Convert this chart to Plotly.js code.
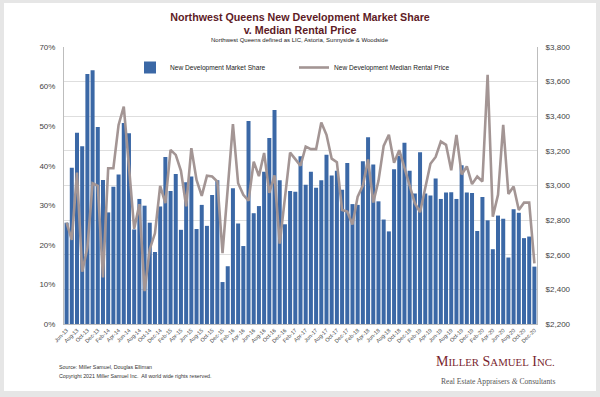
<!DOCTYPE html>
<html><head><meta charset="utf-8">
<script src="https://cdn.plot.ly/plotly-3.0.1.min.js"></script>
<style>html,body{margin:0;padding:0;background:#e6e6e6}#chart{width:600px;height:397px}</style>
</head><body><div id="chart"></div>
<script>
const months = [
 "Jun-13","Jul-13","Aug-13","Sep-13","Oct-13","Nov-13","Dec-13",
 "Jan-14","Feb-14","Mar-14","Apr-14","May-14","Jun-14","Jul-14","Aug-14","Sep-14","Oct-14","Nov-14","Dec-14",
 "Jan-15","Feb-15","Mar-15","Apr-15","May-15","Jun-15","Jul-15","Aug-15","Sep-15","Oct-15","Nov-15","Dec-15",
 "Jan-16","Feb-16","Mar-16","Apr-16","May-16","Jun-16","Jul-16","Aug-16","Sep-16","Oct-16","Nov-16","Dec-16",
 "Jan-17","Feb-17","Mar-17","Apr-17","May-17","Jun-17","Jul-17","Aug-17","Sep-17","Oct-17","Nov-17","Dec-17",
 "Jan-18","Feb-18","Mar-18","Apr-18","May-18","Jun-18","Jul-18","Aug-18","Sep-18","Oct-18","Nov-18","Dec-18",
 "Jan-19","Feb-19","Mar-19","Apr-19","May-19","Jun-19","Jul-19","Aug-19","Sep-19","Oct-19","Nov-19","Dec-19",
 "Jan-20","Feb-20","Mar-20","Apr-20","May-20","Jun-20","Jul-20","Aug-20","Sep-20","Oct-20","Nov-20","Dec-20"
];
const marketShare = [
 25.6,39.5,48.3,44.9,63.2,64.1,49.8,
 36.4,28.2,34.7,37.8,50.8,48.2,23.9,31.6,29.9,25.6,18.2,29.7,
 42.2,33.6,37.9,23.8,35.8,37.3,24.0,30.1,24.8,32.6,36.3,10.6,
 14.6,34.3,25.4,19.7,51.3,28.0,29.8,38.5,47.0,54.1,36.3,25.2,
 33.6,33.4,42.4,35.2,38.5,34.4,36.3,42.8,37.5,38.7,33.9,40.7,
 30.3,30.1,41.1,47.2,40.3,31.0,26.4,23.4,39.1,42.5,45.8,38.7,
 33.0,43.4,33.0,32.5,36.8,31.6,33.2,33.3,31.6,40.1,33.2,33.1,
 23.5,32.1,26.2,18.9,27.4,26.6,16.8,29.0,28.1,21.7,22.1,14.5
];
const medianRent = [
 2786,2686,3075,2502,2640,3013,2998,
 2469,3100,3100,3350,3456,3110,2750,2892,2390,2632,2724,2998,
 2898,3206,3177,3085,2880,3216,3032,2940,3056,3052,3023,2609,
 2994,3354,3013,2946,2912,3138,3054,3188,2957,3058,2664,2930,
 3190,3152,3114,3225,3210,3210,3364,3293,3155,3135,2859,2849,
 2775,2936,2999,3150,2902,3027,3229,3293,3131,3204,3105,2997,
 2898,2846,2985,3126,3165,3254,3235,3088,3292,3064,3110,3008,
 3052,3023,3640,2820,2946,3350,2951,2994,2859,2901,2901,2550
];
const tickLabels = months.filter((m, i) => i % 2 === 0);

const M = {l: 64, r: 63, t: 47, b: 73};
const PW = 600 - M.l - M.r, PH = 397 - M.t - M.b;
const px = x => (x - M.l) / PW;
const py = y => (397 - M.b - y) / PH;
const FONT = "Liberation Sans, Arial, sans-serif";
const SERIF = "Liberation Serif, Times New Roman, serif";

const traces = [
 {type: "bar", name: "New Development Market Share", x: months, y: marketShare,
  marker: {color: "#3b68a6"}, yaxis: "y", hoverinfo: "skip"},
 {type: "scatter", mode: "lines", name: "New Development Median Rental Price", x: months, y: medianRent,
  line: {color: "#a39594", width: 2.6}, yaxis: "y2", hoverinfo: "skip"}
];

const layout = {
 width: 600, height: 397, margin: M,
 paper_bgcolor: "#e6e6e6", plot_bgcolor: "rgba(0,0,0,0)",
 font: {family: FONT, color: "#333"},
 bargap: 0.23, showlegend: true,
 title: {text: "<b>Northwest Queens New Development Market Share<br>v. Median Rental Price</b>",
  font: {family: FONT, size: 10.7, color: "#5e1b26"}, x: 0.5, xanchor: "center", y: 1 - 20.5/397, yanchor: "top", yref: "container"},
 legend: {orientation: "h", x: px(130), xanchor: "left", y: py(67.5), yanchor: "middle",
  font: {family: FONT, size: 6.6, color: "#222"}, bgcolor: "rgba(0,0,0,0)",
  entrywidth: 119, entrywidthmode: "pixels", traceorder: "normal"},
 xaxis: {type: "category", tickvals: tickLabels, ticktext: tickLabels, tickangle: -45,
  tickfont: {family: FONT, size: 5.5, color: "#444"}, showline: true, linecolor: "#bdbdbd", linewidth: 1,
  showgrid: false, ticks: "", fixedrange: true},
 yaxis: {range: [0, 70], dtick: 10, ticksuffix: "%", showgrid: false, zeroline: false,
  showline: true, linecolor: "#bdbdbd", linewidth: 1, ticks: "", ticklabelstandoff: 6,
  tickfont: {family: FONT, size: 8, color: "#444"}},
 yaxis2: {overlaying: "y", side: "right", range: [2200, 3800], dtick: 200, tickformat: "$,.0f",
  showgrid: true, gridcolor: "#d6d6d6", gridwidth: 0.8, zeroline: false,
  showline: true, linecolor: "#bdbdbd", linewidth: 1, ticks: "", ticklabelstandoff: 6,
  tickfont: {family: FONT, size: 8, color: "#444"}},
 shapes: [
  {type: "rect", xref: "paper", yref: "paper", x0: px(4), x1: px(596), y0: py(391), y1: py(3),
   fillcolor: "#ffffff", line: {width: 0}, layer: "below"}
 ],
 annotations: [
  {text: "Northwest Queens defined as LIC, Astoria, Sunnyside & Woodside", xref: "paper", yref: "paper",
   x: px(300), y: py(40), xanchor: "center", yanchor: "middle", showarrow: false,
   font: {family: FONT, size: 6, color: "#222"}},
  {text: "Source: Miller Samuel, Douglas Elliman", xref: "paper", yref: "paper",
   x: px(57), y: py(367), xanchor: "left", yanchor: "middle", showarrow: false,
   font: {family: FONT, size: 5.3, color: "#333"}},
  {text: "Copyright 2021 Miller Samuel Inc.  All world wide rights reserved.", xref: "paper", yref: "paper",
   x: px(57), y: py(376), xanchor: "left", yanchor: "middle", showarrow: false,
   font: {family: FONT, size: 5.3, color: "#333"}},
  {text: "M<span style='font-size:10.8px'>ILLER</span> S<span style='font-size:10.8px'>AMUEL</span> I<span style='font-size:10.8px'>NC.</span>",
   xref: "paper", yref: "paper", x: px(557), y: py(361), xanchor: "right", yanchor: "middle", showarrow: false,
   font: {family: SERIF, size: 14, color: "#7a1f2f"}},
  {text: "Real Estate Appraisers <i>&amp;</i> Consultants", xref: "paper", yref: "paper",
   x: px(557), y: py(381), xanchor: "right", yanchor: "middle", showarrow: false,
   font: {family: SERIF, size: 7.6, color: "#555"}}
 ]
};

Plotly.newPlot("chart", traces, layout, {displayModeBar: false, staticPlot: true});
</script>
</body></html>
